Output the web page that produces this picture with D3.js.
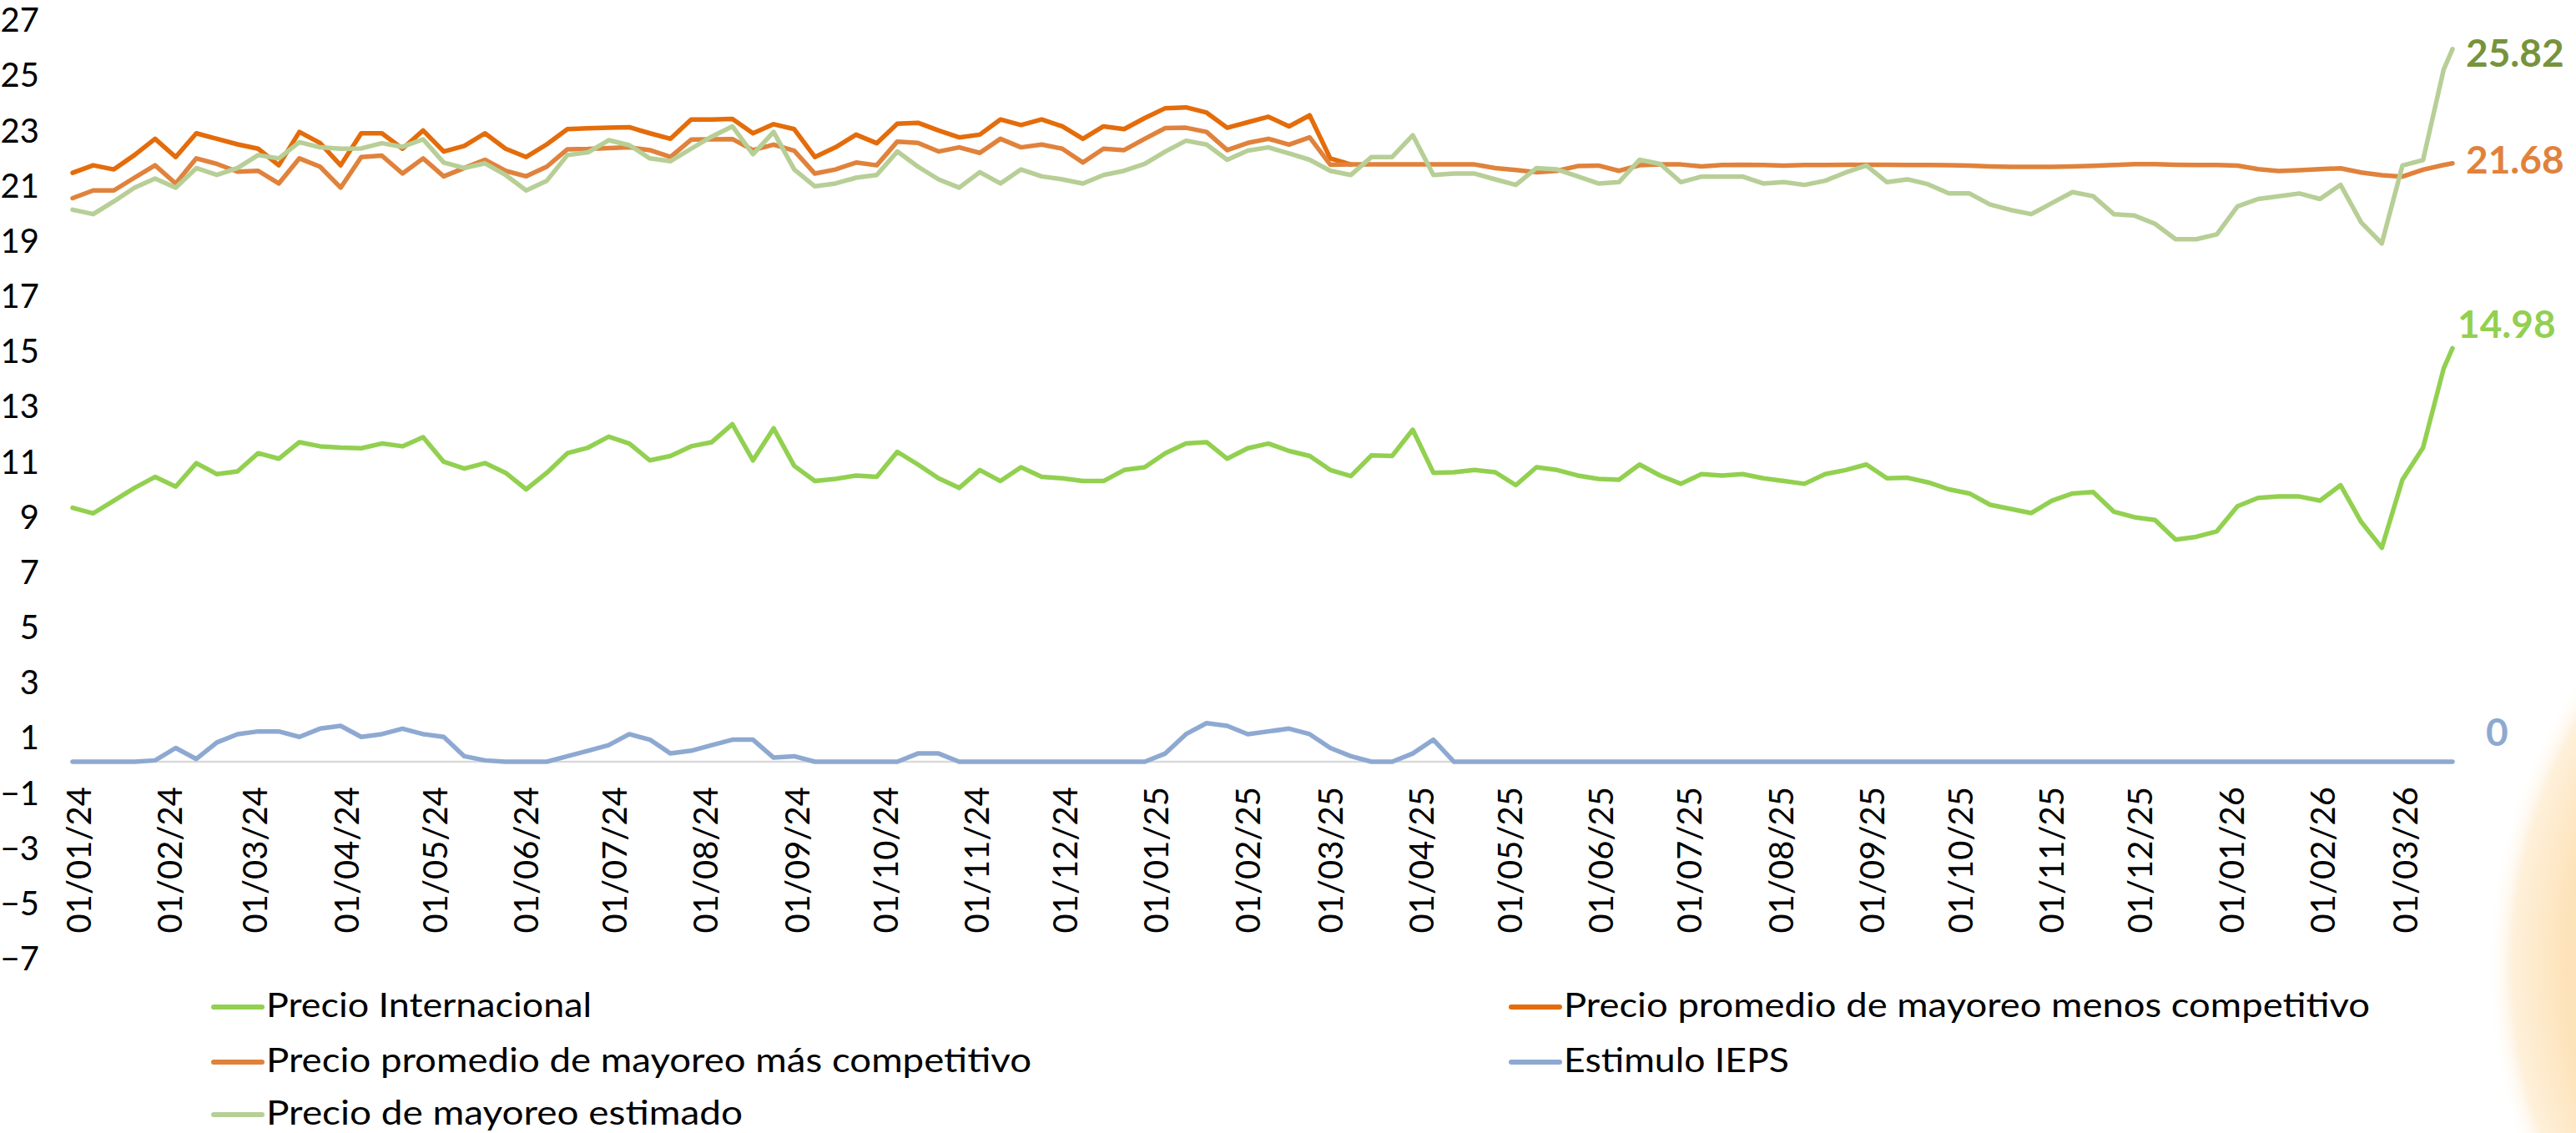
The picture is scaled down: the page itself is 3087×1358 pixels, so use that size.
<!DOCTYPE html>
<html>
<head>
<meta charset="utf-8">
<script src="https://cdn.jsdelivr.net/npm/d3@7"></script>
<style>
  body { margin: 0; background: #fff; }
  svg text { font-family: Lato, 'Open Sans', sans-serif; }
</style>
</head>
<body>
<div class="visual"></div>
<script>
const [width, height] = [3087, 1358];
const START = new Date(2024, 0, 1);
const END = new Date(2026, 2, 19);

// one reading every 7 days from 01/01/24, the last one on 19/03/26
const day_offsets = [...d3.range(0, 806, 7), 808];

const intl_price = [
  9.2, 9.0, 9.46, 9.92, 10.32, 9.97, 10.82, 10.42, 10.52, 11.18,
  10.98, 11.58, 11.43, 11.38, 11.36, 11.53, 11.43, 11.76, 10.87, 10.62,
  10.82, 10.47, 9.87, 10.47, 11.18, 11.38, 11.78, 11.53, 10.92, 11.08,
  11.43, 11.58, 12.23, 10.92, 12.08, 10.72, 10.17, 10.25, 10.37, 10.32,
  11.23, 10.77, 10.27, 9.92, 10.57, 10.17, 10.67, 10.32, 10.27, 10.17,
  10.17, 10.57, 10.67, 11.18, 11.53, 11.58, 10.98, 11.36, 11.53, 11.26,
  11.08, 10.57, 10.35, 11.1, 11.08, 12.03, 10.47, 10.49, 10.57, 10.49,
  10.02, 10.67, 10.57, 10.37, 10.25, 10.22, 10.77, 10.37, 10.07, 10.42,
  10.37, 10.42, 10.27, 10.17, 10.07, 10.42, 10.57, 10.77, 10.27, 10.29,
  10.12, 9.87, 9.72, 9.31, 9.16, 9.01, 9.46, 9.72, 9.77, 9.06,
  8.86, 8.76, 8.05, 8.15, 8.35, 9.26, 9.56, 9.61, 9.61, 9.46,
  10.02, 8.69, 7.75, 10.22, 11.38, 14.25, 14.98,
];

const less_competitive = [
  21.34, 21.61, 21.46, 21.98, 22.57, 21.91, 22.77, 22.57, 22.37, 22.21,
  21.61, 22.82, 22.42, 21.61, 22.77, 22.77, 22.21, 22.87, 22.11, 22.31,
  22.77, 22.21, 21.91, 22.37, 22.92, 22.95, 22.97, 22.99, 22.77, 22.57,
  23.27, 23.27, 23.29, 22.77, 23.1, 22.92, 21.91, 22.26, 22.72, 22.41,
  23.12, 23.15, 22.87, 22.62, 22.72, 23.27, 23.07, 23.27, 23.02, 22.57,
  23.02, 22.92, 23.32, 23.68, 23.71, 23.52, 22.97, 23.17, 23.37, 23.02,
  23.42, 21.86, 21.64,
];

const more_competitive = [
  20.42, 20.7, 20.7, 21.16, 21.61, 20.95, 21.86, 21.66, 21.38, 21.41,
  20.95, 21.86, 21.56, 20.8, 21.91, 21.96, 21.31, 21.86, 21.21, 21.51,
  21.81, 21.41, 21.21, 21.56, 22.19, 22.2, 22.23, 22.26, 22.16, 21.91,
  22.54, 22.55, 22.56, 22.16, 22.36, 22.14, 21.31, 21.46, 21.71, 21.61,
  22.47, 22.42, 22.11, 22.26, 22.06, 22.57, 22.26, 22.36, 22.21, 21.71,
  22.21, 22.16, 22.57, 22.96, 22.97, 22.82, 22.16, 22.42, 22.57, 22.36,
  22.62, 21.63, 21.64, 21.64, 21.64, 21.64, 21.64, 21.64, 21.64, 21.51,
  21.44, 21.36, 21.41, 21.58, 21.6, 21.41, 21.61, 21.64, 21.64, 21.57,
  21.62, 21.63, 21.62, 21.6, 21.62, 21.62, 21.63, 21.63, 21.63, 21.62,
  21.62, 21.61, 21.6, 21.57, 21.55, 21.55, 21.55, 21.57, 21.59, 21.62,
  21.65, 21.65, 21.63, 21.62, 21.62, 21.6, 21.47, 21.4, 21.43, 21.47,
  21.5, 21.35, 21.25, 21.2, 21.45, 21.62, 21.68,
];

const ieps_stimulus = [
  0, 0, 0, 0, 0.05, 0.5, 0.1, 0.7, 1.0, 1.1,
  1.1, 0.9, 1.2, 1.3, 0.9, 1.0, 1.2, 1.0, 0.9, 0.2,
  0.05, 0, 0, 0, 0.2, 0.4, 0.6, 1.0, 0.8, 0.3,
  0.4, 0.6, 0.8, 0.8, 0.15, 0.2, 0, 0, 0, 0,
  0, 0.3, 0.3, 0, 0, 0, 0, 0, 0, 0,
  0, 0, 0, 0.3, 1.0, 1.4, 1.3, 1.0, 1.1, 1.2,
  1.0, 0.5, 0.2, 0, 0, 0.3, 0.8, 0, 0, 0,
  0, 0, 0, 0, 0, 0, 0, 0, 0, 0,
  0, 0, 0, 0, 0, 0, 0, 0, 0, 0,
  0, 0, 0, 0, 0, 0, 0, 0, 0, 0,
  0, 0, 0, 0, 0, 0, 0, 0, 0, 0,
  0, 0, 0, 0, 0, 0, 0,
];

const estimated_price = [
  20.0, 19.84, 20.3, 20.8, 21.13, 20.8, 21.51, 21.26, 21.51, 21.98,
  21.86, 22.45, 22.26, 22.21, 22.22, 22.41, 22.28, 22.55, 21.71, 21.51,
  21.68, 21.26, 20.7, 21.05, 21.98, 22.08, 22.52, 22.34, 21.86, 21.76,
  22.21, 22.65, 23.02, 22.01, 22.82, 21.46, 20.85, 20.95, 21.16, 21.26,
  22.11, 21.56, 21.1, 20.8, 21.36, 20.95, 21.46, 21.21, 21.1, 20.95,
  21.26, 21.41, 21.66, 22.11, 22.5, 22.36, 21.81, 22.14, 22.26, 22.04,
  21.81, 21.41, 21.26, 21.91, 21.91, 22.7, 21.26, 21.31, 21.31, 21.1,
  20.9, 21.51, 21.46, 21.21, 20.95, 21.0, 21.81, 21.66, 21.0, 21.2,
  21.2, 21.2, 20.95, 21.0, 20.9, 21.05, 21.35, 21.6, 21.0, 21.1,
  20.92, 20.59, 20.59, 20.19, 19.99, 19.84, 20.24, 20.64, 20.49, 19.84,
  19.79, 19.49, 18.93, 18.93, 19.11, 20.12, 20.39, 20.49, 20.59, 20.39,
  20.9, 19.54, 18.78, 21.6, 21.8, 25.08, 25.82,
];

const y_ticks = [27, 25, 23, 21, 19, 17, 15, 13, 11, 9, 7, 5, 3, 1, -1, -3, -5, -7];
const x_labels = [
  '01/01/24', '01/02/24', '01/03/24', '01/04/24', '01/05/24', '01/06/24',
  '01/07/24', '01/08/24', '01/09/24', '01/10/24', '01/11/24', '01/12/24',
  '01/01/25', '01/02/25', '01/03/25', '01/04/25', '01/05/25', '01/06/25',
  '01/07/25', '01/08/25', '01/09/25', '01/10/25', '01/11/25', '01/12/25',
  '01/01/26', '01/02/26', '01/03/26',
];

// drawing order follows the original workbook: later series sit on top
const series = [
  { name: 'Precio Internacional', values: intl_price, color: '#92D050', label: { color: '#92D050', dx: 6, dy: -12 } },
  { name: 'Precio promedio de mayoreo menos competitivo', values: less_competitive, color: '#E46C0A' },
  { name: 'Precio promedio de mayoreo más competitivo', values: more_competitive, color: '#E0823C', label: { color: '#E0823C', dx: 16, dy: 12 } },
  { name: 'Estimulo IEPS', values: ieps_stimulus, color: '#8EA9D1', label: { color: '#8EA9D1', dx: 40, dy: -19 } },
  { name: 'Precio de mayoreo estimado', values: estimated_price, color: '#B7CF97', label: { color: '#77933C', dx: 16, dy: 21 } },
];

// legend slots [x, y, text width], row by row in two columns like Excel lays them out
const legend_slots = [
  [256, 1207, 390],
  [1811, 1207, 966],
  [256, 1273, 917],
  [1811, 1273, 270],
  [256, 1336, 571],
];

const dates = day_offsets.map((d) => d3.timeDay.offset(START, d));

const svg = d3
  .select('.visual')
  .append('svg')
  .attr('width', width)
  .attr('height', height);

// soft peach disc peeking in at the bottom-right corner
const glow = svg
  .append('defs')
  .append('radialGradient')
  .attr('id', 'glow');
glow.append('stop').attr('offset', '0%').attr('stop-color', '#FBD595');
glow.append('stop').attr('offset', '85%').attr('stop-color', '#FDE3BA');
glow.append('stop').attr('offset', '95%').attr('stop-color', '#FEF0DA');
glow.append('stop').attr('offset', '100%').attr('stop-color', '#FFFFFF').attr('stop-opacity', 0);
svg
  .append('circle')
  .attr('cx', 3600)
  .attr('cy', 1160)
  .attr('r', 620)
  .attr('fill', 'url(#glow)');

const x_scale = d3.scaleTime().domain([START, END]).range([87, 2939]);
const y_scale = d3.scaleLinear().domain([-7, 27]).range([1144.6, 19.8]);

const y_axis = d3.axisLeft(y_scale).tickValues(y_ticks).tickSize(0).tickPadding(0);
svg
  .append('g')
  .attr('transform', 'translate(47, 0)')
  .call(y_axis)
  .call((g) => g.select('.domain').remove())
  .selectAll('text')
  .attr('dy', '0.45em')
  .style('font-size', '40px')
  .style('fill', '#000');

const tick_dates = x_labels.map((s) => d3.timeParse('%d/%m/%y')(s));
const x_axis = d3
  .axisBottom(x_scale)
  .tickValues(tick_dates)
  .tickFormat((_d, i) => x_labels[i])
  .tickSize(0);
svg
  .append('g')
  .attr('transform', 'translate(0, 943)')
  .call(x_axis)
  .call((g) => g.select('.domain').remove())
  .selectAll('text')
  .attr('transform', 'rotate(-90)')
  .attr('text-anchor', 'end')
  .attr('x', 0)
  .attr('y', 21)
  .attr('dy', 0)
  .style('font-size', '40px')
  .style('fill', '#000');

svg
  .append('line')
  .attr('x1', x_scale(START))
  .attr('x2', x_scale(END))
  .attr('y1', y_scale(0))
  .attr('y2', y_scale(0))
  .attr('stroke', '#D9D9D9')
  .attr('stroke-width', 2.5);

const line = d3
  .line()
  .defined((v) => v != null)
  .x((_v, i) => x_scale(dates[i]))
  .y((v) => y_scale(v));

series.forEach((s) => {
  svg
    .append('path')
    .datum(s.values)
    .attr('d', line)
    .attr('fill', 'none')
    .attr('stroke', s.color)
    .attr('stroke-width', 5.5)
    .attr('stroke-linejoin', 'round')
    .attr('stroke-linecap', 'round');
});

// value call-outs at the end of the lines
series
  .filter((s) => s.label)
  .forEach((s) => {
    const last = s.values[s.values.length - 1];
    svg
      .append('text')
      .attr('x', x_scale(dates[s.values.length - 1]) + s.label.dx)
      .attr('y', y_scale(last) + s.label.dy)
      .style('font-size', '46px')
      .style('font-weight', 'bold')
      .style('fill', s.label.color)
      .text(`${last}`);
  });

const legend = svg
  .selectAll('.legend-item')
  .data(series)
  .enter()
  .append('g')
  .attr('class', 'legend-item')
  .attr('transform', (_s, i) => `translate(${legend_slots[i][0]}, ${legend_slots[i][1]})`);

legend
  .append('line')
  .attr('x1', 0)
  .attr('x2', 58)
  .attr('stroke', (s) => s.color)
  .attr('stroke-width', 6)
  .attr('stroke-linecap', 'round');

legend
  .append('text')
  .attr('x', 63)
  .attr('y', 12)
  .attr('textLength', (_s, i) => legend_slots[i][2])
  .attr('lengthAdjust', 'spacingAndGlyphs')
  .style('font-size', '40px')
  .style('fill', '#000')
  .text((s) => s.name);
</script>
</body>
</html>
